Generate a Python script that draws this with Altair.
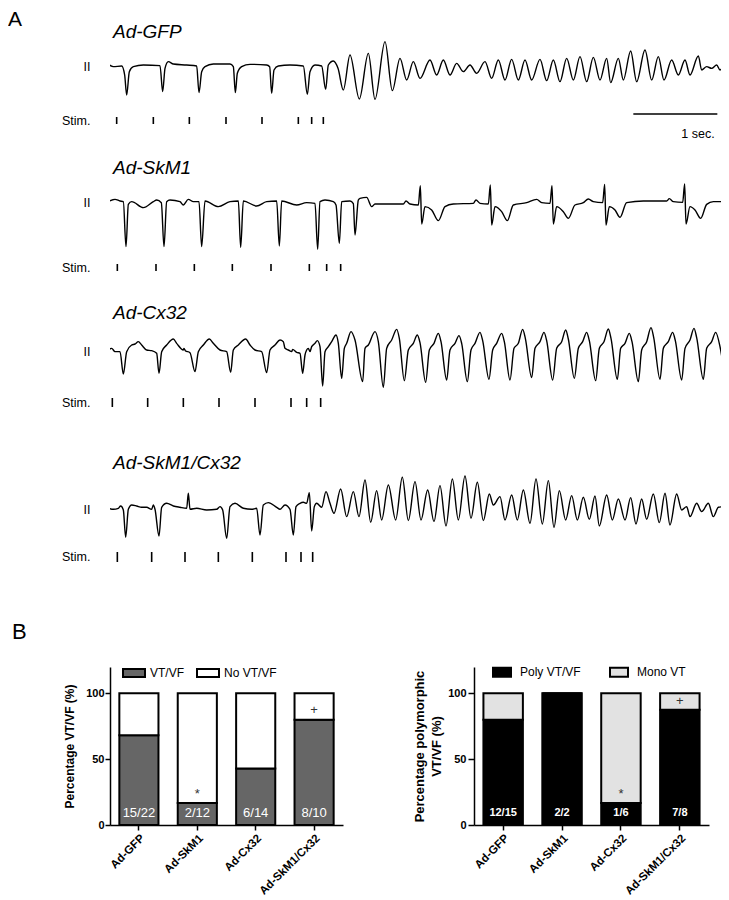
import altair as alt
import pandas as pd

FONT = "Liberation Sans"
FS = 252

# ---------------- Panel A data: (sample, amplitude a.u.) ----------------
gfp_trace = [
    (1, 2), (16, -5), (41, -3), (50, -30), (56, -90), (64, -20), (76, -5), (106, 0), (156, -2),
    (164, -80), (171, -10), (181, 10), (196, 3), (236, 0), (266, -3),
    (273, -83), (281, -20), (291, -5), (316, 3), (366, 3), (376, -5),
    (382, -83), (388, -25), (401, -5), (426, 2), (476, 0), (485, -5),
    (491, -85), (498, -15), (511, -3), (546, 0), (586, -3),
    (598, -88), (606, -20), (621, 0), (641, -3),
    (653, -73), (661, 0), (676, 12), (690, -10), (706, -75), (726, 30), (754, -102),
    (781, 35), (801, -103), (831, 70), (853, -77), (876, 20), (896, -45), (916, 10), (936, -40),
    (966, 15), (986, -30), (1006, 15), (1026, -30), (1046, 5), (1066, -20), (1086, 0), (1106, -25),
    (1131, 10), (1151, -40), (1171, 15), (1191, -45), (1211, 17), (1231, -45), (1251, 15), (1271, -45),
    (1296, 17), (1316, -47), (1336, 15), (1356, -50), (1376, 20), (1396, -45), (1416, 25), (1436, -50),
    (1456, 23), (1476, -45), (1496, 20), (1508, -53), (1531, 20), (1546, -45), (1568, 42), (1586, -50),
    (1611, 45), (1631, -45), (1651, 25), (1668, -45), (1691, 15), (1711, -30), (1731, 15), (1746, -30),
    (1771, 27), (1781, -15), (1796, -5), (1811, -10), (1826, 0), (1836, -15), (1846, -5),
]
skm1_trace = [
    (1, -2), (21, 5), (36, 0), (46, -2), (54, -137), (61, -10), (71, -2), (106, -20), (136, -2), (146, 3),
    (160, -5), (168, -137), (176, -2), (186, 3), (216, -2), (226, -12), (241, 5), (256, -2), (273, -2),
    (281, -137), (291, 0), (331, -17), (366, -2), (391, 0),
    (398, -139), (406, 0), (446, -15), (476, -2), (506, 0),
    (514, -135), (521, 0), (566, -12), (596, -5), (621, -7),
    (629, -145), (636, -2), (651, 3), (676, -2), (684, -12),
    (694, -127), (701, -2), (726, 0), (736, -8), (741, -102), (751, 3),
    (756, 8), (776, 11), (791, -17), (801, -9), (886, -9), (894, 0), (906, -9), (931, -12),
    (937, 46), (941, -69), (951, -17), (971, -27), (991, -59), (1011, -17), (1036, -9),
    (1096, -7), (1104, 3), (1116, -7), (1141, -9),
    (1147, 48), (1151, -72), (1161, -17), (1181, -32), (1198, -59), (1216, -12), (1256, -5),
    (1286, 5), (1301, -5), (1326, -7),
    (1332, 46), (1336, -69), (1346, -17), (1366, -32), (1381, -52), (1401, -12), (1426, -5),
    (1441, 6), (1456, -2), (1484, -5),
    (1490, 50), (1494, -72), (1504, -17), (1521, -27), (1536, -49), (1556, -5), (1606, 0),
    (1676, 0), (1684, 7), (1696, -2), (1724, -4),
    (1730, 51), (1734, -69), (1746, -17), (1761, -27), (1778, -52), (1796, -10), (1816, -2), (1846, -2),
]
cx32_trace = [
    (1, 0), (11, 5), (21, -5), (36, -5), (46, -72), (56, -5), (71, 15), (81, 18), (91, 25), (101, 15),
    (116, 0), (131, -2), (146, -10), (153, -70), (161, -5), (176, 15), (196, 33), (206, 20), (226, 0),
    (228, 5), (232, -2), (246, -8), (261, -65), (271, -5), (286, 15), (304, 33), (316, 20), (336, 0),
    (356, -5), (368, -67), (376, 0), (391, 15), (413, 33), (426, 15), (441, 0), (461, -5),
    (476, -68), (486, 0), (501, 15), (516, 30), (526, 25), (531, 5), (541, 0), (551, -5), (554, 2),
    (566, -7), (576, -10), (584, -70), (591, -15), (596, 0), (601, 5), (606, -5), (611, 10), (621, 20),
    (628, 28), (636, 10), (644, -108), (651, -5), (661, 10), (671, 25), (684, 45), (691, 20),
    (701, -85), (709, 5), (716, 20), (729, 55), (741, 30), (764, -95), (771, 5), (781, 15), (801, 55),
    (811, 25), (826, -112), (836, 5), (851, 30), (866, 62), (874, 35), (889, -92),
    (901, 0), (916, 20), (928, 45), (936, 22), (953, -97),
    (964, 0), (978, 20), (991, 50), (999, 25), (1016, -90),
    (1026, 0), (1041, 20), (1053, 43), (1061, 20), (1078, -95),
    (1089, 0), (1101, 20), (1116, 53), (1124, 28), (1143, -88),
    (1154, 0), (1166, 20), (1181, 50), (1189, 25), (1206, -90),
    (1218, 5), (1231, 20), (1244, 62), (1252, 35), (1271, -83),
    (1281, 5), (1296, 25), (1308, 53), (1316, 28), (1334, -90),
    (1346, 5), (1361, 25), (1373, 60), (1381, 33), (1399, -85),
    (1411, 5), (1424, 25), (1436, 53), (1444, 28), (1463, -92),
    (1474, 5), (1488, 25), (1501, 63), (1509, 35), (1528, -88),
    (1538, 5), (1551, 20), (1564, 50), (1572, 25), (1591, -95),
    (1601, 0), (1616, 25), (1629, 67), (1637, 38), (1656, -88),
    (1666, 5), (1681, 25), (1694, 53), (1702, 28), (1721, -90),
    (1731, 5), (1746, 30), (1758, 65), (1766, 37), (1786, -88),
    (1796, 5), (1811, 25), (1823, 53), (1836, 10), (1846, -48),
]
combo_trace = [
    (1, 0), (16, -3), (31, 0), (38, 7), (46, -5), (53, -87), (61, -3), (71, 10), (86, 7), (101, 3),
    (116, 3), (131, -3), (136, 10), (141, -3), (153, -83), (161, 3), (176, 15), (196, 7), (216, 3),
    (236, 0), (241, 45), (246, -3), (266, 0), (296, -5), (326, -3), (336, 5), (344, -5),
    (356, -90), (366, 5), (381, 15), (406, 0), (431, -3), (446, 0),
    (456, -80), (466, 10), (481, 17), (506, 3), (516, -3), (531, 10), (546, -3),
    (556, -80), (564, 5), (576, 15), (586, 18), (596, 15), (604, 47), (611, -68), (619, 5), (626, 15),
    (641, 3), (654, 50), (666, 15), (678, -15), (698, 58), (716, -25), (736, 50), (753, -25),
    (771, 85), (788, -42), (806, 53), (821, -35), (841, 70),
    (863, -35), (883, 93), (901, -37), (921, 80), (939, -35), (959, 55), (978, -40), (996, 68),
    (1014, -53), (1033, 88), (1051, -35), (1071, 97), (1089, -30), (1108, 78), (1126, -37),
    (1144, 43), (1156, 10), (1176, 35), (1191, -35), (1211, 40), (1228, -35), (1246, 55),
    (1266, -45), (1284, 88), (1303, -47), (1321, 83), (1338, -57), (1354, 53), (1373, -35),
    (1391, 38), (1408, -35), (1426, 33), (1444, -33), (1461, 37), (1474, -53), (1496, 40),
    (1513, -35), (1531, 28), (1551, -35), (1568, 32), (1584, -47), (1601, 28), (1616, -33),
    (1636, 43), (1654, -43), (1671, 45), (1686, -50), (1706, 43), (1721, -5), (1736, 5),
    (1746, -25), (1766, 15), (1781, -10), (1801, 15), (1816, -25), (1831, 3), (1846, 5),
]
gfp_stim = [26, 136, 244, 354, 462, 571, 611, 646]
skm1_stim = [28, 144, 259, 373, 489, 604, 656, 698]
cx32_stim = [13, 119, 226, 333, 441, 549, 596, 638]
combo_stim = [28, 131, 231, 331, 433, 534, 579, 614]
trace_names = ["Ad-GFP", "Ad-SkM1", "Ad-Cx32", "Ad-SkM1/Cx32"]

# ---------------- Panel B data ----------------
groups = ["Ad-GFP", "Ad-SkM1", "Ad-Cx32", "Ad-SkM1/Cx32"]
vt_n = [15, 2, 6, 8]
vt_total = [22, 12, 14, 10]
poly_n = [12, 2, 1, 7]
poly_total = [15, 2, 6, 8]
sig_vt = ["", "*", "", "+"]
sig_poly = ["", "", "*", "+"]

# ---------------- layout ----------------
OX = 110                                   # page x of the panel origins
H_A = 597
BASE_PX = [65, 201, 350, 508.3]           # baseline row of each trace (page px)
STIM_PX = [(117, 124), (264, 271), (398, 407), (552, 562)]
TITLE_PX = [32, 168, 313, 463]
SCALE_START = 1576
S0, S1 = 3 * OX - 324, 1839
W_A = (S1 - S0) / 3


def val(px):
    return -3 * (px - 8)


traces = [gfp_trace, skm1_trace, cx32_trace, combo_trace]
stims = [gfp_stim, skm1_stim, cx32_stim, combo_stim]
rows, srows = [], []
for k, (tr, st) in enumerate(zip(traces, stims)):
    for s, a in tr:
        rows.append({"trace": trace_names[k], "s": s, "v": val(BASE_PX[k]) + a})
    for s in st:
        srows.append({"trace": trace_names[k], "s": s, "v1": val(STIM_PX[k][0]), "v2": val(STIM_PX[k][1])})
trace_df = pd.DataFrame(rows)
stim_df = pd.DataFrame(srows)

xs = alt.Scale(domain=[S0, S1], nice=False, zero=False)
ys = alt.Scale(domain=[-3 * H_A, 0], nice=False, zero=False)

lines = alt.Chart(trace_df).mark_line(color="black", strokeWidth=1.4, interpolate="monotone", clip=True).encode(
    x=alt.X("s:Q", scale=xs, axis=None),
    y=alt.Y("v:Q", scale=ys, axis=None),
    detail="trace:N",
)
stim_rules = alt.Chart(stim_df).mark_rule(color="black", strokeWidth=1.6).encode(
    x=alt.X("s:Q", scale=xs, axis=None),
    y=alt.Y("v1:Q", scale=ys, axis=None),
    y2="v2:Q",
)
scalebar = alt.Chart(pd.DataFrame({"x0": [SCALE_START], "x1": [SCALE_START + FS]})).mark_rule(
    color="black", strokeWidth=1.5).encode(
    x=alt.X("x0:Q", scale=xs, axis=None), x2="x1:Q", y=alt.value(106))

one = pd.DataFrame({"d": [0]})


def label(text, x, y, size=12.5, align="left", style="normal"):
    return alt.Chart(one).mark_text(text=text, align=align, baseline="middle", fontSize=size,
                                    fontStyle=style, font=FONT, color="black").encode(
        x=alt.value(x), y=alt.value(y))


texts = [label("A", 8 - OX, 11.5, size=21), label("1 sec.", 698 - OX, 126, align="center")]
for k in range(4):
    texts.append(label(trace_names[k], 113 - OX, TITLE_PX[k] - 8, size=19, style="italic"))
    texts.append(label("II", 87 - OX, BASE_PX[k] - 6, align="center"))
    texts.append(label("Stim.", 62 - OX, (STIM_PX[k][0] + STIM_PX[k][1]) / 2 - 8))

panelA = alt.layer(lines, stim_rules, scalebar, *texts).properties(width=W_A, height=H_A)


# ---------------- Panel B charts ----------------
def bar_chart(n, total, cats, colors, sig, ytitle, width, legend_cfg, frac_size, frac_weight,
              ypad, lpad, tick, tsize, extra=None):
    pct = [100 * a / b for a, b in zip(n, total)]
    recs = []
    for g, p in zip(groups, pct):
        recs.append({"group": g, "cat": cats[0], "value": p, "ord": 0})
        recs.append({"group": g, "cat": cats[1], "value": 100 - p, "ord": 1})
    df = pd.DataFrame(recs)
    xenc = alt.X("group:N", sort=groups, title=None,
                 scale=alt.Scale(paddingInner=0.33, paddingOuter=0.16),
                 axis=alt.Axis(labelAngle=-45, labelFontSize=11.5, labelFontWeight="bold", labelFont=FONT,
                               labelColor="black", tickSize=5, tickColor="black", tickWidth=1.5,
                               domainColor="black", domainWidth=1.5, labelPadding=2))
    bars = alt.Chart(df).mark_bar(stroke="black", strokeWidth=2).encode(
        x=xenc,
        y=alt.Y("value:Q", stack="zero", scale=alt.Scale(domain=[0, 120], nice=False),
                axis=alt.Axis(values=[0, 50, 100], title=ytitle, titleFontSize=tsize, titleFontWeight="bold",
                              titleFont=FONT, titleColor="black", titlePadding=ypad, titleLineHeight=17,
                              labelFontSize=11, labelFontWeight="bold", labelFont=FONT, labelColor="black",
                              labelPadding=lpad, tickSize=tick, tickColor="black", tickWidth=1.5,
                              domainColor="black", domainWidth=1.5, grid=False)),
        color=alt.Color("cat:N", scale=alt.Scale(domain=cats, range=colors),
                        legend=alt.Legend(title=None, orient="none", direction="horizontal",
                                          labelFontSize=12, labelFont=FONT, labelColor="black",
                                          symbolStrokeColor="black", symbolStrokeWidth=2, symbolOpacity=1,
                                          **legend_cfg)),
        order=alt.Order("ord:Q"),
    )
    fr = pd.DataFrame({"group": groups, "lab": [f"{a}/{b}" for a, b in zip(n, total)]})
    fracs = alt.Chart(fr).mark_text(color="white", fontSize=frac_size, fontWeight=frac_weight,
                                    font=FONT, baseline="middle").encode(
        x=alt.X("group:N", sort=groups), y=alt.value(146), text="lab:N")
    sg = pd.DataFrame({"group": groups, "sym": sig, "pos": [p + 7 for p in pct]})
    sg = sg[sg["sym"] != ""]
    sigs = alt.Chart(sg).mark_text(color="#333333", fontSize=13, font=FONT, baseline="middle").encode(
        x=alt.X("group:N", sort=groups), y=alt.Y("pos:Q"), text="sym:N")
    layers = [bars, fracs, sigs]
    if extra is not None:
        layers.append(extra)
    return alt.layer(*layers).properties(width=width, height=158)


b_label = label("B", 12 - OX, -35, size=22)
chart1 = bar_chart(vt_n, vt_total, ["VT/VF", "No VT/VF"], ["#666666", "#ffffff"], sig_vt,
                   "Percentage VT/VF (%)", 233,
                   dict(legendX=12, legendY=-6, symbolType="M-1,-0.36H1V0.36H-1Z", symbolSize=484,
                        labelOffset=4, columnPadding=8),
                   13, "normal", 9, 1, 5, 12, extra=b_label)
chart2 = bar_chart(poly_n, poly_total, ["Poly VT/VF", "Mono VT"], ["#000000", "#e2e2e2"], sig_poly,
                   ["Percentage polymorphic", "VT/VF (%)"], 235,
                   dict(legendX=18, legendY=-5, symbolType="M-1,-0.5H1V0.5H-1Z", symbolSize=324,
                        labelOffset=8, columnPadding=25),
                   11, "bold", 4, 2, 6, 13)

rowB = alt.hconcat(chart1, chart2, spacing=70).resolve_scale(color="independent").resolve_legend(
    color="independent")
chart = alt.vconcat(panelA, rowB, spacing=16).resolve_scale(color="independent").properties(
    padding=0).configure(font=FONT, view=alt.ViewConfig(stroke=None))
chart.save("out.html", embed_options={"renderer": "svg", "actions": False})
